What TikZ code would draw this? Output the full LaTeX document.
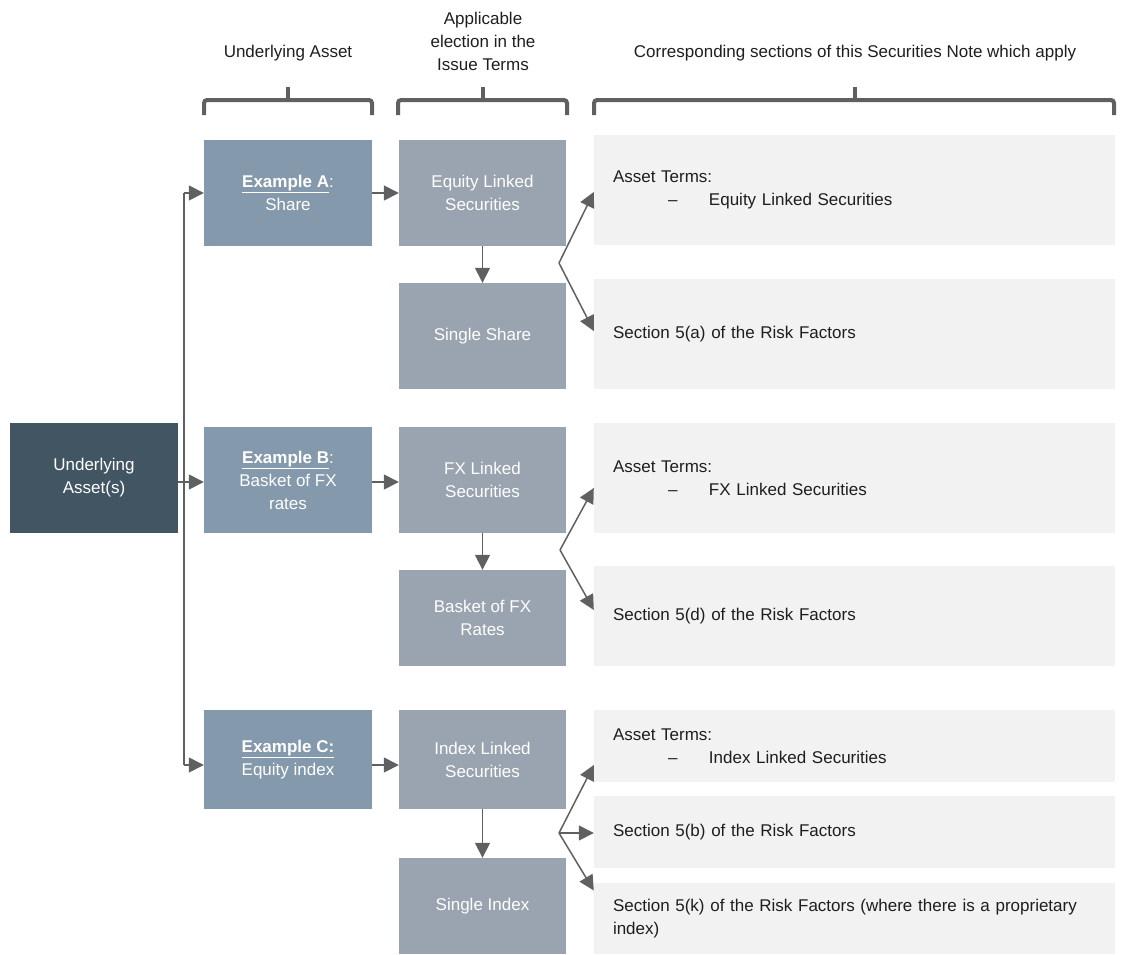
\documentclass[tikz,border=0pt]{standalone}
\usepackage{fontspec}
\setmainfont{Liberation Sans}
\usetikzlibrary{arrows.meta}
\definecolor{cdark}{RGB}{66,85,99}
\definecolor{cex}{RGB}{132,153,171}
\definecolor{cel}{RGB}{154,164,176}
\definecolor{cright}{RGB}{242,242,242}
\definecolor{cline}{RGB}{95,96,98}
\definecolor{ctext}{RGB}{30,30,30}
\begin{document}
\begin{tikzpicture}[x=1pt,y=-1pt,
  txt/.style={font=\fontsize{17}{23}\selectfont},
  box/.style={txt, rectangle, inner sep=0pt, text=white, align=center},
  uabox/.style={box, fill=cdark, minimum width=168pt},
  exbox/.style={box, fill=cex, minimum width=168pt},
  elbox/.style={box, fill=cel, minimum width=167pt},
  rbox/.style={txt, rectangle, fill=cright, text=ctext, align=left, text width=483pt, inner xsep=19pt, inner ysep=0pt},
  hdr/.style={txt, text=ctext, align=center, inner sep=0pt},
  ln/.style={draw=cline, line width=1.5pt},
  arr/.style={ln, -{Triangle[length=15pt,width=15pt]}},
  brace/.style={draw=cline, line width=4pt, rounded corners=3pt}
]
\useasboundingbox (0,0) rectangle (1122,954);

% headers
\node[hdr] (h1) at (288,53) {Underlying Asset};
\node[hdr] (h2) at (483,41) {Applicable\\election in the\\Issue Terms};
\node[hdr] (h3) at (855,53) {Corresponding sections of this Securities Note which apply};

% braces
\draw[brace] (204,115) |- (372,100) -- (372,115);
\draw[brace] (288,100) -- (288,87);
\draw[brace] (398,115) |- (567,100) -- (567,115);
\draw[brace] (483,100) -- (483,87);
\draw[brace] (594,115) |- (1114,100) -- (1114,115);
\draw[brace] (855,100) -- (855,87);

% left box
\node[uabox, minimum height=110pt] (ua) at (94,478) {Underlying\\Asset(s)};

% examples
\node[exbox, minimum height=106pt] (exA) at (288,193) {\underline{\textbf{Example A}}:\\Share};
\node[exbox, minimum height=106pt] (exB) at (288,480) {\underline{\textbf{Example B}}:\\Basket of FX\\rates};
\node[exbox, minimum height=99pt] (exC) at (288,759.5) {\underline{\textbf{Example C:}}\\Equity index};

% elections
\node[elbox, minimum height=106pt] (eqA) at (482.5,193) {Equity Linked\\Securities};
\node[elbox, minimum height=106pt] (ssA) at (482.5,336) {Single Share};
\node[elbox, minimum height=106pt] (fxB) at (482.5,480) {FX Linked\\Securities};
\node[elbox, minimum height=96pt] (bkB) at (482.5,618) {Basket of FX\\Rates};
\node[elbox, minimum height=99pt] (ixC) at (482.5,759.5) {Index Linked\\Securities};
\node[elbox, minimum height=96pt] (siC) at (482.5,906) {Single Index};

% right boxes
\node[rbox, minimum height=110pt] (rA1) at (854.5,190) {Asset Terms:\\\hspace*{55pt}\makebox[41pt][l]{–}Equity Linked Securities};
\node[rbox, minimum height=110pt] (rA2) at (854.5,334) {Section 5(a) of the Risk Factors};
\node[rbox, minimum height=110pt] (rB1) at (854.5,478) {Asset Terms:\\\hspace*{55pt}\makebox[41pt][l]{–}FX Linked Securities};
\node[rbox, minimum height=100pt] (rB2) at (854.5,616) {Section 5(d) of the Risk Factors};
\node[rbox, minimum height=72pt] (rC1) at (854.5,746) {Asset Terms:\\\hspace*{55pt}\makebox[41pt][l]{–}Index Linked Securities};
\node[rbox, minimum height=72pt] (rC2) at (854.5,832) {Section 5(b) of the Risk Factors};
\node[rbox, minimum height=71pt] (rC3) at (854.5,918.5) {Section 5(k) of the Risk Factors (where there is a proprietary\\index)};

% row coordinates
\coordinate (rowA) at (0,193);
\coordinate (rowB) at (0,482);
\coordinate (rowC) at (0,765);
\coordinate (vA) at (184,193);
\coordinate (vC) at (184,765);

% left connectors
\draw[ln] (vA) -- (vC);
\draw[arr] (vA) -- (exA.west |- vA);
\draw[arr] (vC) -- (exC.west |- vC);
\draw[arr] (ua.east |- rowB) -- (exB.west |- rowB);

% example -> election
\draw[arr] (exA.east |- rowA) -- (eqA.west |- rowA);
\draw[arr] (exB.east |- rowB) -- (fxB.west |- rowB);
\draw[arr] (exC.east |- rowC) -- (ixC.west |- rowC);

% vertical
\draw[arr] (eqA) -- (ssA);
\draw[arr] (fxB) -- (bkB);
\draw[arr] (ixC) -- (siC);

% branches
\coordinate (brA) at (559,263);
\coordinate (brB) at (560,550);
\coordinate (brC) at (559,833);
\draw[arr] (brA) -- ([yshift=-2pt]rA1.west);
\draw[arr] (brA) -- ([yshift=3pt]rA2.west);
\draw[arr] (brB) -- ([yshift=-10pt]rB1.west);
\draw[arr] (brB) -- ([yshift=6pt]rB2.west);
\draw[arr] (brC) -- ([yshift=-19pt]rC1.west);
\draw[arr] (brC) -- ([yshift=-1pt]rC2.west);
\draw[arr] (brC) -- ([yshift=28pt]rC3.west);
\end{tikzpicture}
\end{document}
